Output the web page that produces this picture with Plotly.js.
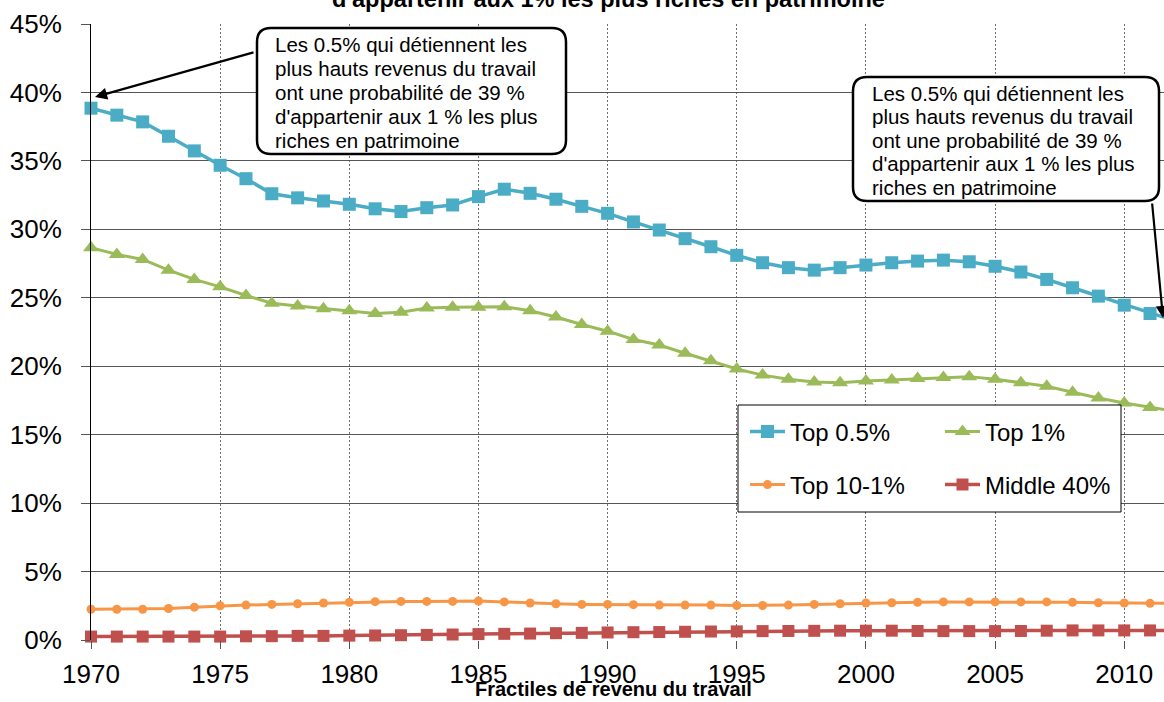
<!DOCTYPE html>
<html>
<head>
<meta charset="utf-8">
<script src="https://cdn.plot.ly/plotly-3.0.1.min.js"></script>
<style>html,body{margin:0;padding:0;background:#fff;}#chart{width:1164px;height:702px;}</style>
</head>
<body>
<div id="chart"></div>
<script>
// ---------- data ----------
const years = [1970,1971,1972,1973,1974,1975,1976,1977,1978,1979,1980,1981,1982,1983,1984,1985,1986,1987,1988,1989,1990,1991,1992,1993,1994,1995,1996,1997,1998,1999,2000,2001,2002,2003,2004,2005,2006,2007,2008,2009,2010,2011,2012];
const top05 = [38.85,38.34,37.85,36.8,35.73,34.68,33.7,32.6,32.3,32.07,31.83,31.5,31.3,31.58,31.78,32.39,32.93,32.63,32.2,31.68,31.17,30.54,29.95,29.32,28.73,28.1,27.56,27.2,27.02,27.2,27.39,27.56,27.68,27.75,27.63,27.3,26.88,26.34,25.73,25.12,24.46,23.85,23.3];
const top1 = [28.66,28.17,27.8,27.02,26.34,25.8,25.17,24.6,24.4,24.2,24.05,23.85,23.95,24.25,24.3,24.3,24.35,24.05,23.6,23.05,22.56,21.95,21.55,20.95,20.4,19.8,19.35,19.05,18.85,18.8,18.92,19.0,19.1,19.18,19.24,19.05,18.8,18.53,18.1,17.68,17.32,16.98,16.7];
const top10_1 = [2.25,2.25,2.25,2.3,2.4,2.5,2.55,2.6,2.65,2.7,2.75,2.8,2.82,2.82,2.82,2.85,2.78,2.7,2.65,2.6,2.6,2.58,2.55,2.55,2.55,2.52,2.52,2.55,2.6,2.65,2.7,2.72,2.75,2.78,2.78,2.78,2.78,2.78,2.75,2.72,2.7,2.68,2.68];
const middle40 = [0.25,0.25,0.25,0.25,0.25,0.25,0.27,0.28,0.3,0.3,0.32,0.33,0.35,0.37,0.4,0.43,0.45,0.47,0.5,0.52,0.55,0.57,0.58,0.6,0.62,0.63,0.65,0.66,0.67,0.68,0.68,0.68,0.66,0.65,0.65,0.65,0.66,0.68,0.7,0.7,0.7,0.7,0.7];
const seriesNames = ['Top 0.5%','Top 1%','Top 10-1%','Middle 40%'];
const xTickVals = [1970,1975,1980,1985,1990,1995,2000,2005,2010];
const yTickVals = [0,5,10,15,20,25,30,35,40,45];
const yTickText = ['0%','5%','10%','15%','20%','25%','30%','35%','40%','45%'];
const noteLines = ['Les 0.5% qui détiennent les','plus hauts revenus du travail','ont une probabilité de 39 %',"d'appartenir aux 1 % les plus",'riches en patrimoine'];
const titleText = "d'appartenir aux 1% les plus riches en patrimoine";
const xTitle = 'Fractiles de revenu du travail';

// ---------- layout helpers ----------
const W = 1164, H = 702, L = 91, R = 1164, T = 24, B = 640;
const px = x => (x - L) / (R - L);
const py = y => (B - y) / (B - T);
function rr(x0, y0, x1, y1, r) {
  const X = px, Y = py;
  return `M${X(x0+r)},${Y(y0)} L${X(x1-r)},${Y(y0)} Q${X(x1)},${Y(y0)} ${X(x1)},${Y(y0+r)} ` +
         `L${X(x1)},${Y(y1-r)} Q${X(x1)},${Y(y1)} ${X(x1-r)},${Y(y1)} L${X(x0+r)},${Y(y1)} ` +
         `Q${X(x0)},${Y(y1)} ${X(x0)},${Y(y1-r)} L${X(x0)},${Y(y0+r)} Q${X(x0)},${Y(y0)} ${X(x0+r)},${Y(y0)} Z`;
}
const FONT = 'Liberation Sans, Arial, sans-serif';

const colors = ['#4BACC6','#9BBB59','#F79646','#C0504D'];
const traces = [
  {x: years, y: top05, name: seriesNames[0], legend: 'legend', mode: 'lines+markers',
   line: {color: colors[0], width: 3.5}, marker: {symbol: 'square', size: 13, color: colors[0]}},
  {x: years, y: top1, name: seriesNames[1], legend: 'legend', mode: 'lines+markers',
   line: {color: colors[1], width: 3}, marker: {symbol: 'triangle-up', size: 14, color: colors[1]}},
  {x: years, y: top10_1, name: seriesNames[2], legend: 'legend2', mode: 'lines+markers',
   line: {color: colors[2], width: 3}, marker: {symbol: 'circle', size: 9, color: colors[2]}},
  {x: years, y: middle40, name: seriesNames[3], legend: 'legend2', mode: 'lines+markers',
   line: {color: colors[3], width: 3.5}, marker: {symbol: 'square', size: 12, color: colors[3]}}
].map(t => Object.assign(t, {type: 'scatter', cliponaxis: false, hoverinfo: 'skip'}));

const annotations = [];
function addNote(xLeft, yFirst, step) {
  noteLines.forEach((t, i) => annotations.push({
    xref: 'paper', yref: 'paper', x: px(xLeft), y: py(yFirst + i * step),
    xanchor: 'left', yanchor: 'middle', showarrow: false, text: t,
    font: {family: FONT, size: 20.5, color: '#000'}
  }));
}
addNote(273, 45, 23.75);
addNote(870, 93, 23.5);
// arrows
annotations.push({xref: 'paper', yref: 'paper', x: px(95), y: py(97), ax: 255 - 95, ay: 52 - 97,
  showarrow: true, arrowhead: 2, arrowsize: 1.1, arrowwidth: 2.2, arrowcolor: '#000', text: '', standoff: 0});
annotations.push({xref: 'paper', yref: 'paper', x: px(1171), y: py(318), ax: 1152 - 1171, ay: 202 - 318,
  showarrow: true, arrowhead: 2, arrowsize: 1.1, arrowwidth: 2.2, arrowcolor: '#000', text: '', standoff: 0});
// x axis title placed just under the tick labels
annotations.push({xref: 'paper', yref: 'paper', x: px(613), y: py(702), xanchor: 'center', yanchor: 'bottom',
  showarrow: false, text: '<b>' + xTitle + '</b>', font: {family: FONT, size: 20, color: '#000'}});

const shapes = [
  {type: 'path', xref: 'paper', yref: 'paper', path: rr(257, 28, 566, 154, 14), fillcolor: '#fff', line: {color: '#000', width: 2.5}, layer: 'above'},
  {type: 'path', xref: 'paper', yref: 'paper', path: rr(853, 77, 1159, 201, 14), fillcolor: '#fff', line: {color: '#000', width: 2.5}, layer: 'above'},
  {type: 'rect', xref: 'paper', yref: 'paper', x0: px(738), x1: px(1121), y0: py(512), y1: py(405), fillcolor: '#fff', line: {color: '#000', width: 1}, layer: 'above'}
];

const legendCommon = {orientation: 'h', xanchor: 'left', yanchor: 'middle', bgcolor: 'rgba(0,0,0,0)', borderwidth: 0,
  font: {family: FONT, size: 24, color: '#000'}, itemwidth: 35, entrywidth: 145, entrywidthmode: 'pixels', itemclick: false, itemdoubleclick: false};

const layout = {
  width: W, height: H,
  margin: {l: L, r: W - R, t: T, b: H - B, pad: 0},
  paper_bgcolor: '#fff', plot_bgcolor: '#fff',
  showlegend: true,
  title: {text: '<b>' + titleText + '</b>', font: {family: FONT, size: 23.5, color: '#000'},
          xref: 'paper', x: px(608.5), xanchor: 'center', yref: 'container', y: 1 - 7 / H, yanchor: 'bottom'},
  xaxis: {range: [1970, 2011.54], tickmode: 'array', tickvals: xTickVals, ticktext: xTickVals.map(String),
    showgrid: true, gridcolor: '#6e6e6e', gridwidth: 1, griddash: '2px,2px', zeroline: false,
    showline: false, ticks: 'outside', ticklen: 8, tickwidth: 1, tickcolor: '#555', ticklabelstandoff: 3,
    tickfont: {family: FONT, size: 26, color: '#000'}},
  yaxis: {range: [0, 45], tickmode: 'array', tickvals: yTickVals, ticktext: yTickText,
    showgrid: true, gridcolor: '#555', gridwidth: 1, zeroline: false,
    showline: true, linecolor: '#000', linewidth: 1, ticks: 'outside', ticklen: 9, tickwidth: 1, tickcolor: '#555',
    ticklabelstandoff: 14, tickfont: {family: FONT, size: 26, color: '#000'}},
  legend: Object.assign({}, legendCommon, {x: px(745), y: py(432)}),
  legend2: Object.assign({}, legendCommon, {x: px(745), y: py(485)}),
  annotations: annotations,
  shapes: shapes
};

Plotly.newPlot('chart', traces, layout, {displayModeBar: false, staticPlot: true});
</script>
</body>
</html>
